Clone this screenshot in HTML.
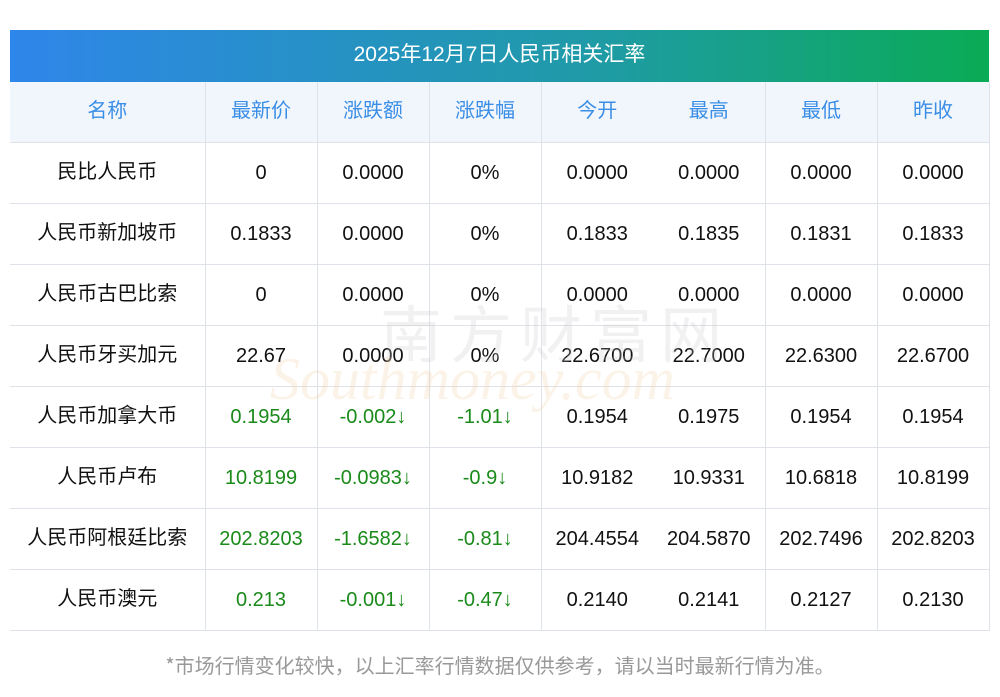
<!DOCTYPE html>
<html><head><meta charset="utf-8"><style>
body{margin:0;width:1000px;height:697px;background:#fff;font-family:"Liberation Sans","Noto Sans CJK SC",sans-serif;position:relative;overflow:hidden}
.title{position:absolute;left:10px;top:30px;width:979px;height:52px;background:linear-gradient(90deg,#2f86ea,#1f9ba6 60%,#0aab55);color:#fff;font-size:21px;line-height:50px;text-align:center}
table{position:absolute;left:10px;top:82px;border-collapse:collapse;width:979px;table-layout:fixed}
td{height:60px;border-bottom:1px solid #e0e2ea;border-right:1px solid #e0e2ea;text-align:center;font-size:20px;line-height:24px;color:#111;padding:0;white-space:nowrap;vertical-align:middle}
td div{height:24px;line-height:24px;overflow:visible}
td.c{font-family:"Noto Sans CJK SC",sans-serif;}
td.c div{position:relative;top:-3px}
tr.h td{background:#f1f6fd;color:#3a8ee6}
td.n{border-right:none}
.g{color:#1a8a1a}
.wm{position:absolute;left:270px;top:345px;font-size:60px;color:rgba(240,200,150,0.22);font-family:"Liberation Serif",serif;font-style:italic;z-index:5}
.wm2{position:absolute;left:380px;top:285px;font-size:62px;letter-spacing:8px;color:rgba(200,200,200,0.25);font-family:"Noto Sans CJK SC",sans-serif;z-index:5}
.foot{position:absolute;left:0;width:1000px;top:650px;text-align:center;font-size:20px;line-height:30px;color:#999;font-family:"Noto Sans CJK SC",sans-serif}
</style></head><body>
<div class="title">2025年12月7日人民币相关汇率</div>
<div class="wm2">南方财富网</div>
<div class="wm">Southmoney.com</div>
<table>
<colgroup><col style="width:195px"><col style="width:112px"><col style="width:112px"><col style="width:112px"><col style="width:112px"><col style="width:112px"><col style="width:112px"><col style="width:112px"></colgroup>
<tr class="h"><td class="c"><div>名称</div></td><td class="c"><div>最新价</div></td><td class="c"><div>涨跌额</div></td><td class="c"><div>涨跌幅</div></td><td class="c n"><div>今开</div></td><td class="c"><div>最高</div></td><td class="c"><div>最低</div></td><td class="c"><div>昨收</div></td></tr>
<tr><td class="c"><div>民比人民币</div></td><td>0</td><td>0.0000</td><td>0%</td><td class="n">0.0000</td><td>0.0000</td><td>0.0000</td><td>0.0000</td></tr>
<tr><td class="c"><div>人民币新加坡币</div></td><td>0.1833</td><td>0.0000</td><td>0%</td><td class="n">0.1833</td><td>0.1835</td><td>0.1831</td><td>0.1833</td></tr>
<tr><td class="c"><div>人民币古巴比索</div></td><td>0</td><td>0.0000</td><td>0%</td><td class="n">0.0000</td><td>0.0000</td><td>0.0000</td><td>0.0000</td></tr>
<tr><td class="c"><div>人民币牙买加元</div></td><td>22.67</td><td>0.0000</td><td>0%</td><td class="n">22.6700</td><td>22.7000</td><td>22.6300</td><td>22.6700</td></tr>
<tr><td class="c"><div>人民币加拿大币</div></td><td class="g">0.1954</td><td class="g">-0.002↓</td><td class="g">-1.01↓</td><td class="n">0.1954</td><td>0.1975</td><td>0.1954</td><td>0.1954</td></tr>
<tr><td class="c"><div>人民币卢布</div></td><td class="g">10.8199</td><td class="g">-0.0983↓</td><td class="g">-0.9↓</td><td class="n">10.9182</td><td>10.9331</td><td>10.6818</td><td>10.8199</td></tr>
<tr><td class="c"><div>人民币阿根廷比索</div></td><td class="g">202.8203</td><td class="g">-1.6582↓</td><td class="g">-0.81↓</td><td class="n">204.4554</td><td>204.5870</td><td>202.7496</td><td>202.8203</td></tr>
<tr><td class="c"><div>人民币澳元</div></td><td class="g">0.213</td><td class="g">-0.001↓</td><td class="g">-0.47↓</td><td class="n">0.2140</td><td>0.2141</td><td>0.2127</td><td>0.2130</td></tr>
</table>
<div class="foot">*市场行情变化较快，以上汇率行情数据仅供参考，请以当时最新行情为准。</div>
</body></html>
